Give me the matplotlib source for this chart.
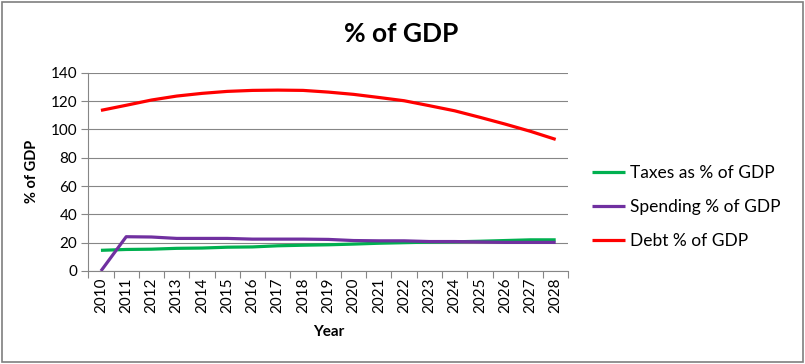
import matplotlib
matplotlib.use('Agg')
import matplotlib.pyplot as plt
from matplotlib.patches import Rectangle

plt.rcParams['font.family'] = ['Lato', 'DejaVu Sans']

years = [str(y) for y in range(2010, 2029)]
taxes = [14.6, 15.2, 15.4, 16.0, 16.2, 16.8, 17.0, 17.8, 18.2, 18.5,
         19.0, 19.6, 20.0, 20.4, 20.6, 21.0, 21.5, 22.0, 22.0]
spending = [0.0, 24.2, 24.0, 23.0, 23.0, 23.0, 22.5, 22.5, 22.5, 22.3,
            21.5, 21.3, 21.3, 20.8, 20.8, 20.5, 20.2, 20.2, 20.2]
debt = [113.4, 117.0, 120.7, 123.5, 125.4, 126.8, 127.5, 127.7, 127.5, 126.3,
        124.7, 122.5, 120.2, 116.7, 113.1, 108.5, 103.7, 98.6, 92.9]

fig = plt.figure(figsize=(8.05, 3.64), dpi=100)
ax = fig.add_axes([0.1097, 0.2555, 0.5963, 0.5448])

x = list(range(len(years)))
ax.plot(x, taxes, color='#00B050', lw=2.3, label='Taxes as % of GDP', solid_capstyle='butt')
ax.plot(x, spending, color='#7030A0', lw=2.3, label='Spending % of GDP', solid_capstyle='butt')
ax.plot(x, debt, color='#FF0000', lw=2.3, label='Debt % of GDP', solid_capstyle='butt')

ax.set_xlim(-0.5, len(years) - 0.5)
ax.set_ylim(0, 140)
ax.set_yticks(range(0, 141, 20))
ax.set_xticks(x)
ax.set_xticklabels(years, rotation=90)
ax.set_xticks([i - 0.5 for i in range(len(years) + 1)], minor=True)
ax.tick_params(axis='x', which='major', length=0, labelsize=11, pad=5)
ax.tick_params(axis='x', which='minor', length=5, color='#868686', width=0.8)
ax.tick_params(axis='y', length=5, color='#868686', width=0.8, labelsize=11, pad=3)

ax.grid(axis='y', color='#868686', lw=0.8)
ax.set_axisbelow(True)
for side in ['top', 'right']:
    ax.spines[side].set_visible(False)
for side in ['left', 'bottom']:
    ax.spines[side].set_color('#868686')
    ax.spines[side].set_linewidth(0.8)

ax.set_xlabel('Year', fontsize=11, fontweight='bold', labelpad=8)
ax.set_ylabel('% of GDP', fontsize=10.5, fontweight='bold', labelpad=8)
fig.text(0.498, 0.907, '% of GDP', fontsize=19, fontweight='bold', ha='center', va='center')

ax.legend(loc='center left', bbox_to_anchor=(0.7355, 0.431), bbox_transform=fig.transFigure,
          frameon=False, fontsize=12.5, handlelength=1.9, handletextpad=0.3,
          labelspacing=1.05, borderpad=0, borderaxespad=0)

fig.patches.append(Rectangle((0.003, 0.006), 0.994, 0.988, transform=fig.transFigure,
                             fill=False, edgecolor='#7f7f7f', lw=1.2))

fig.savefig('out.png', dpi=100)
